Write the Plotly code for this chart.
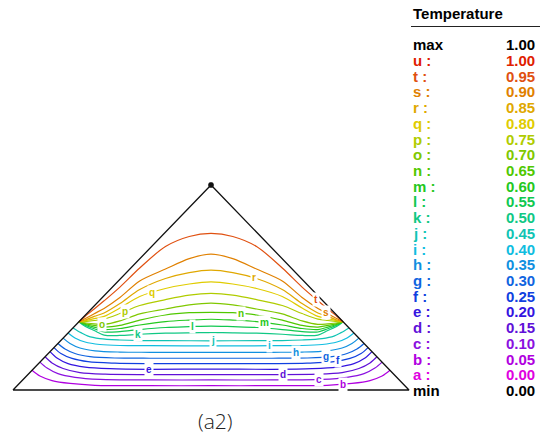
import numpy as np
import plotly.graph_objects as go

W, H = 543, 438

# ---- data -------------------------------------------------------------
LETTERS = list("abcdefghijklmnopqrstu")
LEVELS = [0.00, 0.05, 0.10, 0.15, 0.20, 0.25, 0.30, 0.35, 0.40, 0.45, 0.50,
          0.55, 0.60, 0.65, 0.70, 0.75, 0.80, 0.85, 0.90, 0.95, 1.00]
T_MIN, T_MAX = 0.00, 1.00

# triangle boundary (base from -1 to 1, apex at height 1)
TRI_X = [-1.0, 1.0, 0.0, -1.0]
TRI_Y = [0.0, 0.0, 1.0, 0.0]
APEX_X, APEX_Y = [0.0], [1.0]

# contour lines leaving the hot/insulated junctions (k .. t)
X_UP = [-0.667, -0.64, -0.59, -0.54, -0.46, -0.36, -0.23, -0.11, 0.0,
        0.11, 0.23, 0.36, 0.46, 0.54, 0.59, 0.64, 0.667]
Y_K = [0.333, 0.313, 0.290, 0.268, 0.266, 0.272, 0.277, 0.279, 0.280,
       0.279, 0.277, 0.272, 0.266, 0.268, 0.290, 0.313, 0.333]
Y_L = [0.333, 0.318, 0.299, 0.283, 0.285, 0.295, 0.305, 0.309, 0.312,
       0.309, 0.305, 0.295, 0.285, 0.283, 0.299, 0.318, 0.333]
Y_M = [0.333, 0.322, 0.307, 0.295, 0.300, 0.317, 0.334, 0.341, 0.345,
       0.341, 0.334, 0.317, 0.300, 0.295, 0.307, 0.322, 0.333]
Y_N = [0.333, 0.325, 0.315, 0.307, 0.315, 0.341, 0.366, 0.377, 0.379,
       0.377, 0.366, 0.341, 0.315, 0.307, 0.315, 0.325, 0.333]
Y_O = [0.333, 0.328, 0.323, 0.320, 0.337, 0.371, 0.395, 0.415, 0.424,
       0.415, 0.395, 0.371, 0.337, 0.320, 0.323, 0.328, 0.333]
Y_P = [0.333, 0.334, 0.339, 0.346, 0.373, 0.412, 0.441, 0.463, 0.471,
       0.463, 0.441, 0.412, 0.373, 0.346, 0.339, 0.334, 0.333]
Y_Q = [0.333, 0.337, 0.348, 0.359, 0.400, 0.456, 0.495, 0.517, 0.527,
       0.517, 0.495, 0.456, 0.400, 0.359, 0.348, 0.337, 0.333]
Y_R = [0.333, 0.340, 0.359, 0.376, 0.422, 0.490, 0.544, 0.573, 0.585,
       0.573, 0.544, 0.490, 0.422, 0.376, 0.359, 0.340, 0.333]
Y_S = [0.333, 0.346, 0.372, 0.398, 0.451, 0.532, 0.590, 0.641, 0.663,
       0.641, 0.590, 0.532, 0.451, 0.398, 0.372, 0.346, 0.333]
Y_T = [0.333, 0.356, 0.395, 0.435, 0.502, 0.595, 0.700, 0.749, 0.764,
       0.749, 0.700, 0.595, 0.502, 0.435, 0.395, 0.356, 0.333]

# contour lines ending on the insulated lower side walls (b .. j)
X_J = [-0.697, -0.657, -0.621, -0.561, -0.460, -0.359, -0.232, 0.0,
       0.232, 0.359, 0.460, 0.561, 0.621, 0.657, 0.697]
Y_J = [0.303, 0.280, 0.263, 0.251, 0.244, 0.241, 0.241, 0.240,
       0.241, 0.241, 0.244, 0.251, 0.263, 0.280, 0.303]
X_I = [-0.722, -0.687, -0.636, -0.561, -0.460, -0.308, 0.0,
       0.308, 0.460, 0.561, 0.636, 0.687, 0.722]
Y_I = [0.278, 0.254, 0.234, 0.222, 0.217, 0.216, 0.215,
       0.216, 0.217, 0.222, 0.234, 0.254, 0.278]
X_H = [-0.747, -0.712, -0.662, -0.586, -0.460, -0.308, 0.0,
       0.308, 0.460, 0.586, 0.662, 0.712, 0.747]
Y_H = [0.253, 0.227, 0.205, 0.191, 0.185, 0.184, 0.184,
       0.184, 0.185, 0.191, 0.205, 0.227, 0.253]
X_G = [-0.773, -0.737, -0.687, -0.611, -0.485, -0.308, 0.0,
       0.308, 0.485, 0.611, 0.687, 0.737, 0.773]
Y_G = [0.227, 0.200, 0.178, 0.163, 0.156, 0.155, 0.155,
       0.155, 0.156, 0.163, 0.178, 0.200, 0.227]
X_F = [-0.793, -0.758, -0.702, -0.621, -0.485, -0.308, 0.0,
       0.308, 0.485, 0.621, 0.702, 0.758, 0.793]
Y_F = [0.207, 0.178, 0.154, 0.138, 0.131, 0.129, 0.129,
       0.129, 0.131, 0.138, 0.154, 0.178, 0.207]
X_E = [-0.813, -0.778, -0.722, -0.636, -0.510, -0.308, 0.0,
       0.308, 0.510, 0.636, 0.722, 0.778, 0.813]
Y_E = [0.187, 0.156, 0.129, 0.112, 0.104, 0.101, 0.102,
       0.101, 0.104, 0.112, 0.129, 0.156, 0.187]
X_D = [-0.838, -0.803, -0.747, -0.662, -0.535, -0.308, 0.0,
       0.308, 0.535, 0.662, 0.747, 0.803, 0.838]
Y_D = [0.162, 0.132, 0.105, 0.085, 0.077, 0.075, 0.075,
       0.075, 0.077, 0.085, 0.105, 0.132, 0.162]
X_C = [-0.864, -0.828, -0.773, -0.687, -0.561, -0.308, 0.0,
       0.308, 0.561, 0.687, 0.773, 0.828, 0.864]
Y_C = [0.136, 0.107, 0.080, 0.062, 0.052, 0.049, 0.049,
       0.049, 0.052, 0.062, 0.080, 0.107, 0.136]
X_B = [-0.904, -0.864, -0.803, -0.712, -0.586, -0.308, 0.0,
       0.308, 0.586, 0.712, 0.803, 0.864, 0.904]
Y_B = [0.096, 0.068, 0.046, 0.032, 0.023, 0.021, 0.021,
       0.021, 0.023, 0.032, 0.046, 0.068, 0.096]

# x position of the in-line letter label of each contour
LABEL_X = {"b": 0.667, "c": 0.545, "d": 0.364, "e": -0.313, "f": 0.641,
           "g": 0.581, "h": 0.429, "i": 0.293, "j": 0.01, "k": -0.369,
           "l": -0.091, "m": 0.268, "n": 0.152, "o": -0.551, "p": -0.434,
           "q": -0.298, "r": 0.217, "s": 0.581, "t": 0.530}

LINES = {
    "b": (X_B, Y_B), "c": (X_C, Y_C), "d": (X_D, Y_D), "e": (X_E, Y_E),
    "f": (X_F, Y_F), "g": (X_G, Y_G), "h": (X_H, Y_H), "i": (X_I, Y_I),
    "j": (X_J, Y_J), "k": (X_UP, Y_K), "l": (X_UP, Y_L), "m": (X_UP, Y_M),
    "n": (X_UP, Y_N), "o": (X_UP, Y_O), "p": (X_UP, Y_P), "q": (X_UP, Y_Q),
    "r": (X_UP, Y_R), "s": (X_UP, Y_S), "t": (X_UP, Y_T),
}

# ---- styles -----------------------------------------------------------
COLORS = ["#e000e0", "#b000e0", "#8a10e0", "#6010d8", "#3414e0", "#1040e0",
          "#1064e0", "#1090e0", "#10bde0", "#10c4b4", "#10c884", "#10c850",
          "#24c820", "#50c800", "#80c800", "#b0cc00", "#e0cc00", "#e0a800",
          "#e08000", "#e05010", "#e02000"]
COLOR_OF = dict(zip(LETTERS, COLORS))
FONT = "Liberation Sans, Arial, Helvetica, sans-serif"

fig = go.Figure()

for letter, (xs, ys) in LINES.items():
    fig.add_trace(go.Scatter(
        x=xs, y=ys, mode="lines",
        line=dict(color=COLOR_OF[letter], width=1.2, shape="spline", smoothing=0.9),
        hoverinfo="skip"))

fig.add_trace(go.Scatter(x=TRI_X, y=TRI_Y, mode="lines",
                         line=dict(color="#111111", width=1.3), hoverinfo="skip"))
fig.add_trace(go.Scatter(x=APEX_X, y=APEX_Y, mode="markers",
                         marker=dict(symbol="asterisk-open", size=5, color="#111111",
                                     line=dict(color="#111111", width=1.5)),
                         hoverinfo="skip"))

annotations = []
for letter, lx in LABEL_X.items():
    xs, ys = LINES[letter]
    ly = float(np.interp(lx, xs, ys))
    annotations.append(dict(
        x=lx, y=ly, xref="x", yref="y", text="<b>%s</b>" % letter,
        showarrow=False, bgcolor="white", borderpad=1,
        font=dict(family=FONT, size=10, color=COLOR_OF[letter])))


def pxx(v):
    return v / W


def pxy(v):
    return 1 - v / H


# legend block
annotations.append(dict(x=pxx(411), y=pxy(13.5), xref="paper", yref="paper",
                        xanchor="left", yanchor="middle", showarrow=False,
                        text="<b>Temperature</b>",
                        font=dict(family=FONT, size=15, color="#000000")))

rows = [("max", "%.2f" % T_MAX, "#000000")]
for letter, lev in zip(reversed(LETTERS), reversed(LEVELS)):
    rows.append(("%s :" % letter, "%.2f" % lev, COLOR_OF[letter]))
rows.append(("min", "%.2f" % T_MIN, "#000000"))

for i, (lab, val, col) in enumerate(rows):
    yy = 44.7 + 15.72 * i
    annotations.append(dict(x=pxx(411), y=pxy(yy), xref="paper", yref="paper",
                            xanchor="left", yanchor="middle", showarrow=False,
                            text="<b>%s</b>" % lab,
                            font=dict(family=FONT, size=15, color=col)))
    annotations.append(dict(x=pxx(537), y=pxy(yy), xref="paper", yref="paper",
                            xanchor="right", yanchor="middle", showarrow=False,
                            text="<b>%s</b>" % val,
                            font=dict(family=FONT, size=15, color=col)))

annotations.append(dict(x=pxx(215), y=pxy(421), xref="paper", yref="paper",
                        xanchor="center", yanchor="middle", showarrow=False,
                        text="(a2)",
                        font=dict(family="Open Sans, sans-serif", size=21,
                                  color="#222222", weight=300)))

fig.update_layout(
    width=W, height=H, autosize=False,
    margin=dict(l=0, r=0, t=0, b=0),
    paper_bgcolor="white", plot_bgcolor="white",
    showlegend=False,
    xaxis=dict(visible=False, range=[-211 / 198, (W - 211) / 198], fixedrange=True),
    yaxis=dict(visible=False, range=[(390 - H) / 205, 390 / 205], fixedrange=True),
    annotations=annotations,
    shapes=[dict(type="line", xref="paper", yref="paper",
                 x0=pxx(411), x1=pxx(540), y0=pxy(26.5), y1=pxy(26.5),
                 line=dict(color="#222222", width=1))],
)

fig.write_html(
    "out.html",
    config={"displayModeBar": False, "staticPlot": True},
    post_script="document.body.style.margin='0px';document.body.style.overflow='hidden';",
)
